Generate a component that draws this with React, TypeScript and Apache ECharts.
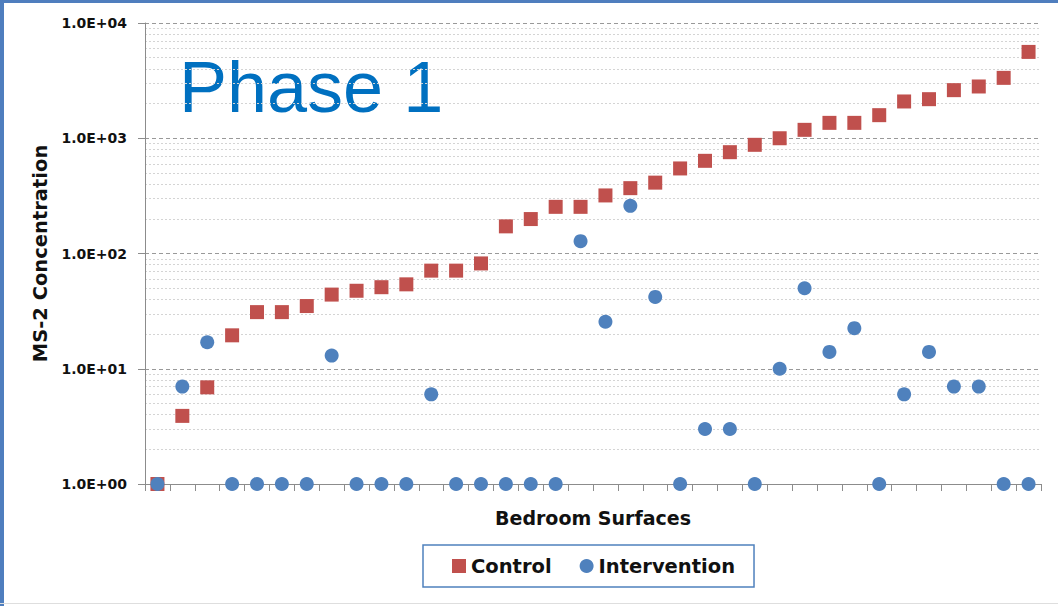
import React, { useEffect, useRef } from "react";
import * as echarts from "echarts";

// Bedroom surfaces, numbered left to right
const surfaces = [
  "1", "2", "3", "4", "5", "6", "7", "8", "9", "10", "11", "12",
  "13", "14", "15", "16", "17", "18", "19", "20", "21", "22", "23", "24",
  "25", "26", "27", "28", "29", "30", "31", "32", "33", "34", "35", "36",
];

// MS-2 concentration per surface
const controlValues = [
  1, 3.9, 6.9, 19.5, 31, 31, 35, 44, 47.5, 51, 54, 71,
  71, 82, 172, 199, 254, 254, 319, 369, 412, 547, 637, 757,
  877, 1000, 1183, 1360, 1360, 1586, 2085, 2183, 2614, 2813, 3342, 5612,
];

const interventionValues = [
  1, 7, 17, 1, 1, 1, 1, 13, 1, 1, 1, 6,
  1, 1, 1, 1, 1, 128, 25.6, 259, 42, 1, 3, 3,
  1, 10, 50, 14, 22.5, 1, 6, 14, 7, 7, 1, 1,
];

// Decade tick labels on the log axis (1 .. 10^4)
const yTickLabels = ["1.0E+00", "1.0E+01", "1.0E+02", "1.0E+03", "1.0E+04"];

// Minor gridlines: 2..9 within each decade
const minorGridValues = [
  2, 3, 4, 5, 6, 7, 8, 9,
  20, 30, 40, 50, 60, 70, 80, 90,
  200, 300, 400, 500, 600, 700, 800, 900,
  2000, 3000, 4000, 5000, 6000, 7000, 8000, 9000,
];

const FONT = "DejaVu Sans";

export default function App() {
  const ref = useRef<HTMLDivElement>(null);

  useEffect(() => {
    if (!ref.current) return;
    const chart = echarts.init(ref.current, undefined, { renderer: "svg" });

    chart.setOption({
      animation: false,
      backgroundColor: "#ffffff",
      grid: { left: 145, right: 17, top: 23, bottom: 122 },
      legend: {
        data: [
          { name: "Control", icon: "rect" },
          { name: "Intervention", icon: "circle" },
        ],
        left: 423,
        top: 545,
        orient: "horizontal",
        padding: [11, 19, 11, 29],
        itemGap: 28,
        itemWidth: 14,
        itemHeight: 14,
        borderColor: "#4F81BD",
        borderWidth: 1.5,
        textStyle: {
          fontFamily: FONT,
          fontWeight: "bold",
          fontSize: 19.5,
          color: "#111111",
        },
      },
      xAxis: {
        type: "category",
        data: surfaces,
        boundaryGap: true,
        name: "Bedroom Surfaces",
        nameLocation: "middle",
        nameGap: 24,
        nameTextStyle: {
          fontFamily: FONT,
          fontWeight: "bold",
          fontSize: 19,
          color: "#111111",
        },
        axisLine: { show: true, lineStyle: { color: "#8c8c8c", width: 1 } },
        axisTick: {
          show: true,
          interval: 0,
          length: 7,
          lineStyle: { color: "#8c8c8c" },
        },
        axisLabel: { show: false },
        splitLine: { show: false },
      },
      yAxis: {
        type: "log",
        logBase: 10,
        min: 1,
        max: 10000,
        name: "MS-2 Concentration",
        nameLocation: "middle",
        nameGap: 88,
        nameRotate: 90,
        nameTextStyle: {
          fontFamily: FONT,
          fontWeight: "bold",
          fontSize: 19.5,
          color: "#111111",
        },
        axisLine: { show: true, lineStyle: { color: "#8c8c8c", width: 1 } },
        axisTick: { show: true, length: 7, lineStyle: { color: "#8c8c8c" } },
        axisLabel: {
          margin: 18,
          fontFamily: FONT,
          fontWeight: "bold",
          fontSize: 14,
          color: "#111111",
          formatter: (v: number) => yTickLabels[Math.round(Math.log10(v))] ?? "",
        },
        splitLine: {
          show: true,
          lineStyle: { color: "#999999", type: [4, 3], width: 1 },
        },
      },
      series: [
        {
          name: "minor-grid",
          type: "scatter",
          data: [],
          silent: true,
          z: 0,
          markLine: {
            silent: true,
            z: 0,
            symbol: ["none", "none"],
            label: { show: false },
            lineStyle: { color: "#d4d4d4", type: [2, 2], width: 1 },
            data: minorGridValues.map((v) => ({ yAxis: v })),
          },
        },
        {
          name: "Control",
          type: "scatter",
          symbol: "rect",
          symbolSize: 14,
          clip: false,
          z: 10,
          itemStyle: { color: "#C0504D", opacity: 1 },
          data: controlValues,
        },
        {
          name: "Intervention",
          type: "scatter",
          symbol: "circle",
          symbolSize: 14,
          clip: false,
          z: 11,
          itemStyle: { color: "#4F81BD", opacity: 1 },
          data: interventionValues,
        },
      ],
      graphic: [
        {
          type: "rect",
          left: 0,
          top: 0,
          shape: { x: 0, y: 0, width: 4, height: 606 },
          style: { fill: "#4F7EBE" },
          silent: true,
        },
        {
          type: "rect",
          left: 0,
          top: 0,
          shape: { x: 0, y: 0, width: 1058, height: 3 },
          style: { fill: "#4F7EBE" },
          silent: true,
        },
        {
          type: "rect",
          left: 0,
          top: 603,
          shape: { x: 0, y: 0, width: 1058, height: 1 },
          style: { fill: "#dedede" },
          silent: true,
        },
        {
          type: "text",
          x: 179,
          y: 87,
          style: {
            text: "Phase 1",
            font: '72px "Liberation Sans", Arial, sans-serif',
            fill: "#0070C0",
            verticalAlign: "middle",
            textVerticalAlign: "middle",
            align: "left",
          },
          silent: true,
        },
      ],
    });

    return () => chart.dispose();
  }, []);

  return (
    <div
      ref={ref}
      style={{ position: "fixed", left: 0, top: 0, width: 1058, height: 606 }}
    />
  );
}
